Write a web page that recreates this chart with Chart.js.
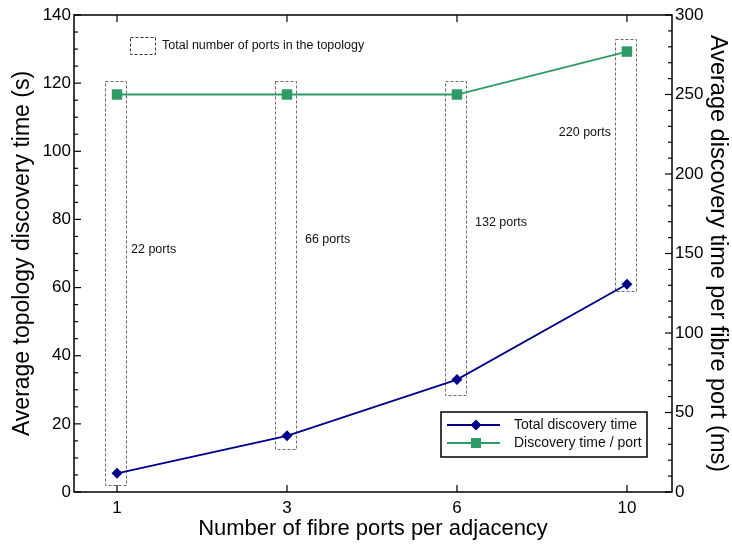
<!DOCTYPE html>
<html><head><meta charset="utf-8">
<script src="https://cdn.jsdelivr.net/npm/chart.js@4/dist/chart.umd.min.js"></script>
<style>html,body{margin:0;padding:0;background:#fff;}#wrap{width:732px;height:544px;position:relative;}</style>
</head><body><div id="wrap"><canvas id="c"></canvas></div>
<script>
const categories = ['1', '3', '6', '10'];
const totalTime = [5.5, 16.5, 33, 61];          // s, left axis
const timePerPort = [250, 250, 250, 277];       // ms, right axis
const portLabels = ['22 ports', '66 ports', '132 ports', '220 ports'];
const boxLow = [2, 12.6, 28.5, 59];             // dashed box extents (left-axis units)
const boxHigh = [120.6, 120.6, 120.6, 133];
const portLabelY = [71.3, 74, 79.2, 105.4];     // label heights (left-axis units)
const leftTicks = [0, 20, 40, 60, 80, 100, 120, 140];
const rightTicks = [0, 50, 100, 150, 200, 250, 300];

const BLUE = '#00008B', GREEN = '#2E9A68';
const FONT = '"Liberation Sans", Arial, Helvetica, sans-serif';
Chart.defaults.font.family = FONT;
Chart.defaults.color = '#000';

function diamond(ctx, x, y, r) { ctx.beginPath(); ctx.moveTo(x, y - r); ctx.lineTo(x + r, y); ctx.lineTo(x, y + r); ctx.lineTo(x - r, y); ctx.closePath(); ctx.fill(); }

const annot = {
  id: 'annot',
  beforeDatasetsDraw(chart) {
    const { ctx, scales: { x, y } } = chart;
    ctx.save();
    ctx.strokeStyle = '#6a6a6a'; ctx.lineWidth = 1; ctx.setLineDash([3, 2]);
    categories.forEach((c, i) => {
      const x0 = x.getPixelForValue(i - 0.07), x1 = x.getPixelForValue(i + 0.056);
      const y0 = y.getPixelForValue(boxHigh[i]), y1 = y.getPixelForValue(boxLow[i]);
      ctx.strokeRect(Math.round(x0) + 0.5, Math.round(y0) + 0.5, Math.round(x1 - x0), Math.round(y1 - y0));
    });
    ctx.setLineDash([]);
    ctx.fillStyle = '#111'; ctx.font = '12.5px ' + FONT; ctx.textBaseline = 'middle';
    portLabels.forEach((t, i) => {
      const last = i === categories.length - 1;
      ctx.textAlign = last ? 'right' : 'left';
      const px = x.getPixelForValue(i) + (last ? -16 : (i === 0 ? 14 : 18));
      ctx.fillText(t, px, y.getPixelForValue(portLabelY[i]));
    });
    ctx.restore();
  },
  afterDraw(chart) {
    const { ctx, chartArea: a, scales: { x, y, y2 } } = chart;
    ctx.save();
    ctx.strokeStyle = '#000';
    ctx.lineWidth = 1.5;
    ctx.strokeRect(a.left, a.top, a.right - a.left, a.bottom - a.top);
    ctx.lineWidth = 1.2;
    const seg = (x0, y0, x1, y1) => { ctx.beginPath(); ctx.moveTo(x0, y0); ctx.lineTo(x1, y1); ctx.stroke(); };
    for (let v = 0; v <= 140; v += 5) {
      const p = y.getPixelForValue(v), len = v % 20 === 0 ? 7 : 4;
      seg(a.left, p, a.left + len, p);
    }
    for (let v = 0; v <= 300; v += 10) {
      const p = y2.getPixelForValue(v), len = v % 50 === 0 ? 7 : 4;
      seg(a.right, p, a.right - len, p);
    }
    categories.forEach((c, i) => {
      const p = x.getPixelForValue(i);
      seg(p, a.bottom, p, a.bottom - 7);
      seg(p, a.top, p, a.top + 7);
    });
    ctx.strokeStyle = '#333'; ctx.lineWidth = 1; ctx.setLineDash([3, 2]);
    ctx.strokeRect(a.left + 56.5, a.top + 22.5, 25, 17);
    ctx.setLineDash([]);
    ctx.fillStyle = '#111'; ctx.font = '12.5px ' + FONT; ctx.textBaseline = 'middle'; ctx.textAlign = 'left';
    ctx.fillText('Total number of ports in the topology', a.left + 88, a.top + 31);
    const L = a.right - 231, T = a.bottom - 80, W = 206, H = 45;
    ctx.fillStyle = '#fff'; ctx.fillRect(L, T, W, H);
    ctx.strokeStyle = '#000'; ctx.lineWidth = 1.5; ctx.strokeRect(L, T, W, H);
    const ds = chart.data.datasets;
    [T + 13, T + 31].forEach((yy, k) => {
      const col = ds[k].borderColor;
      ctx.strokeStyle = col; ctx.fillStyle = col; ctx.lineWidth = 1.8;
      seg(L + 6, yy, L + 59, yy);
      if (k === 0) diamond(ctx, L + 35, yy, 5.5); else ctx.fillRect(L + 30, yy - 5, 10, 10);
      ctx.fillStyle = '#111'; ctx.font = '14px ' + FONT;
      ctx.fillText(ds[k].label, L + 73, yy);
    });
    ctx.restore();
  }
};

new Chart(document.getElementById('c'), {
  type: 'line',
  data: {
    datasets: [
      { label: 'Total discovery time', data: categories.map((c, i) => ({ x: i, y: totalTime[i] })), yAxisID: 'y',
        borderColor: BLUE, backgroundColor: BLUE, pointStyle: 'rectRot', pointRadius: 5.5, pointBorderWidth: 0, borderWidth: 1.8 },
      { label: 'Discovery time / port', data: categories.map((c, i) => ({ x: i, y: timePerPort[i] })), yAxisID: 'y2',
        borderColor: GREEN, backgroundColor: GREEN, pointStyle: 'rect', pointRadius: 7.4, pointBorderWidth: 0, borderWidth: 1.8 }
    ]
  },
  options: {
    responsive: true, maintainAspectRatio: false, animation: false,
    layout: { padding: { top: 15, left: 0, right: 0, bottom: 0 } },
    plugins: { legend: { display: false }, tooltip: { enabled: false } },
    scales: {
      x: { type: 'linear', min: -0.253, max: 3.265,
        afterBuildTicks: s => { s.ticks = categories.map((c, i) => ({ value: i })); },
        ticks: { callback: (v, i) => categories[i], font: { size: 17 }, padding: 6, maxRotation: 0 },
        grid: { display: false, drawTicks: false }, border: { display: false },
        title: { display: true, text: 'Number of fibre ports per adjacency', font: { size: 22 }, padding: { top: 0, bottom: 2 } },
        afterFit: s => { s.height = 52; } },
      y: { position: 'left', min: 0, max: 140,
        afterBuildTicks: s => { s.ticks = leftTicks.map(v => ({ value: v })); },
        ticks: { font: { size: 17 }, padding: 3 },
        grid: { display: false, drawTicks: false }, border: { display: false },
        title: { display: true, text: 'Average topology discovery time (s)', font: { size: 23 }, padding: { top: 9, bottom: 0 } },
        afterFit: s => { s.width = 74; } },
      y2: { position: 'right', min: 0, max: 300,
        afterBuildTicks: s => { s.ticks = rightTicks.map(v => ({ value: v })); },
        ticks: { font: { size: 17 }, padding: 3 },
        grid: { display: false, drawTicks: false }, border: { display: false },
        title: { display: true, text: 'Average discovery time per fibre port (ms)', font: { size: 23.5 }, padding: { top: 0, bottom: 0 } },
        afterFit: s => { s.width = 60; } }
    }
  },
  plugins: [annot]
});
</script></body></html>
